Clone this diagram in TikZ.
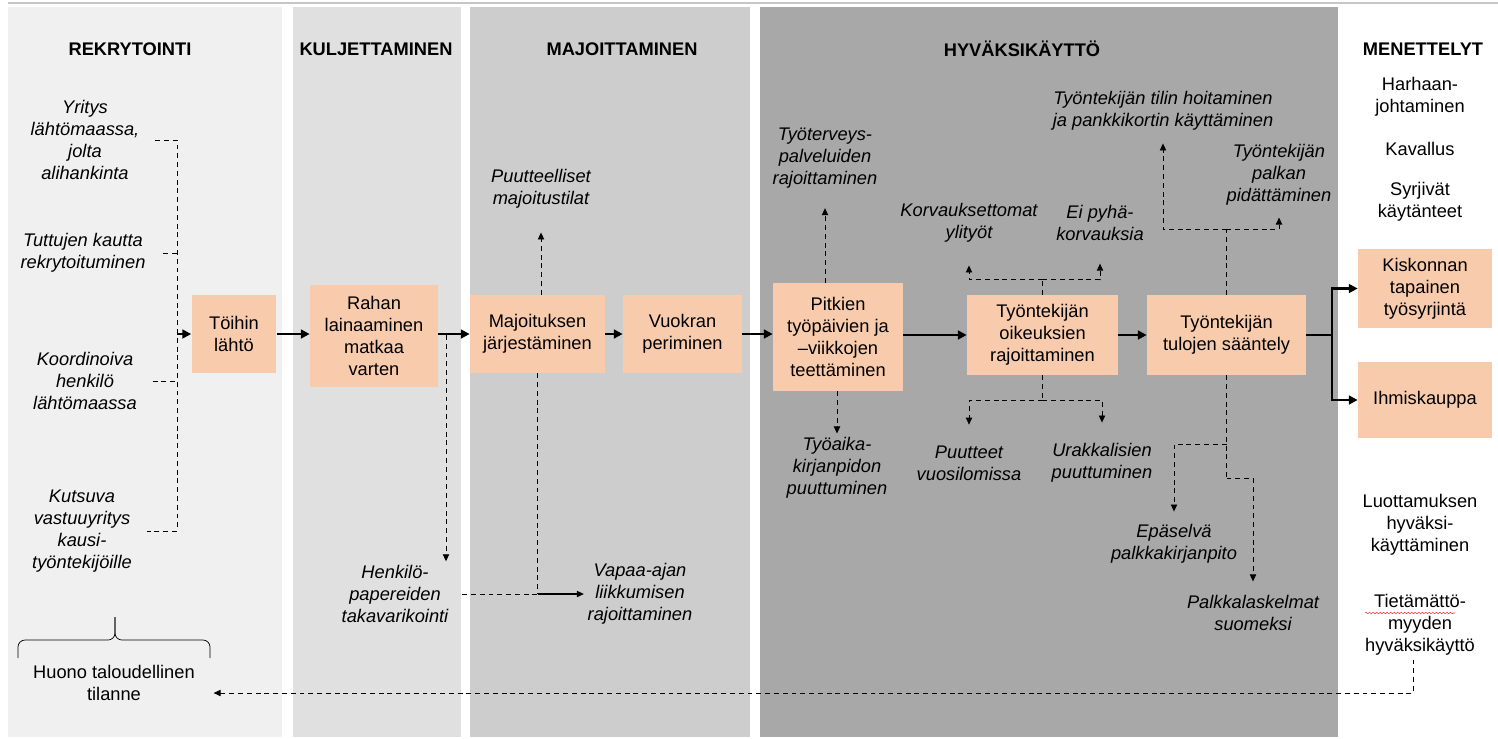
\documentclass[tikz,border=0pt]{standalone}
\usepackage{fontspec}
\setmainfont{Liberation Sans}
\usetikzlibrary{arrows.meta, positioning, decorations.pathmorphing}
\definecolor{peach}{HTML}{F8CBAD}
\definecolor{phaseA}{HTML}{F0F0F0}
\definecolor{phaseB}{HTML}{E0E0E0}
\definecolor{phaseC}{HTML}{CDCDCD}
\definecolor{phaseD}{HTML}{A8A8A8}
\newcommand{\diagfont}{\fontsize{10.4}{12.6}\selectfont}

\begin{document}
\begin{tikzpicture}[x=0.02cm, y=-0.02cm,
    phase/.style={font=\diagfont\bfseries},
    stage/.style={rectangle, fill=peach, align=center, font=\diagfont, inner sep=2pt},
    issue/.style={align=center, font=\diagfont\itshape, inner sep=2pt},
    method/.style={align=center, font=\diagfont, inner sep=2pt},
    flow/.style={-{Triangle[length=5pt,width=5pt]}, line width=1.2pt},
    dashlink/.style={dash pattern=on 2.8pt off 2.2pt, line width=0.5pt},
    linkarrow/.style={dashlink, -{Triangle[length=4pt,width=3.6pt]}}
]

    % Background
    \useasboundingbox (0,0) rectangle (1498,738);
    \fill[white] (0,0) rectangle (1498,738);
    \draw[gray!45, line width=0.6pt] (8,3) -- (1498,3);
    \fill[phaseA] (8,7) rectangle (282,737);
    \fill[phaseB] (293,7) rectangle (461,737);
    \fill[phaseC] (470,7) rectangle (750,737);
    \fill[phaseD] (760,7) rectangle (1338,737);

    % Phases
    \node[phase] (rek) at (130,49) {REKRYTOINTI};
    \node[phase] (kul) at (376,49) {KULJETTAMINEN};
    \node[phase] (maj) at (622,49) {MAJOITTAMINEN};
    \node[phase] (hyv) at (1022,49) {HYVÄKSIKÄYTTÖ};
    \node[phase] (men) at (1423,49) {MENETTELYT};

    % Stages
    \node[stage, minimum width=1.7cm, minimum height=1.56cm] (toihin) at (234,334) {Töihin\\lähtö};
    \node[stage, minimum width=2.56cm, minimum height=2.04cm] (rahan) at (374,336) {Rahan\\lainaaminen\\matkaa\\varten};
    \node[stage, minimum width=2.7cm, minimum height=1.56cm] (majoitus) at (537.5,334) {Majoituksen\\järjestäminen};
    \node[stage, minimum width=2.38cm, minimum height=1.56cm] (vuokra) at (682.5,334) {Vuokran\\periminen};
    \node[stage, minimum width=2.6cm, minimum height=2.16cm] (pitkien) at (838,337) {Pitkien\\työpäivien ja\\–viikkojen\\teettäminen};
    \node[stage, minimum width=3.02cm, minimum height=1.6cm] (oikeudet) at (1042.5,335) {Työntekijän\\oikeuksien\\rajoittaminen};
    \node[stage, minimum width=3.18cm, minimum height=1.6cm] (tulot) at (1226.5,335) {Työntekijän\\tulojen sääntely};
    \node[stage, minimum width=2.68cm, minimum height=1.58cm] (kiskonta) at (1425,288.5) {Kiskonnan\\tapainen\\työsyrjintä};
    \node[stage, minimum width=2.68cm, minimum height=1.52cm] (ihmiskauppa) at (1425,400) {Ihmiskauppa};

    % Recruitment
    \node[issue] (yritys) at (85,140) {Yritys\\lähtömaassa,\\jolta\\alihankinta};
    \node[issue] (tuttujen) at (83,253) {Tuttujen kautta\\rekrytoituminen};
    \node[issue] (koord) at (85,381) {Koordinoiva\\henkilö\\lähtömaassa};
    \node[issue] (kutsuva) at (82,531) {Kutsuva\\vastuuyritys\\kausi-\\työntekijöille};
    \node[method] (huono) at (114,683) {Huono taloudellinen\\tilanne};
    \coordinate (recfork) at (177,334);

    \draw[dashlink, shorten <=0.24cm, shorten >=0.23cm] (yritys.east) -| (recfork) |- (kutsuva.east);
    \draw[dashlink, shorten <=0.28cm] (tuttujen.east) -- (tuttujen.east -| recfork);
    \draw[dashlink, shorten <=0.24cm] (koord.east) -- (koord.east -| recfork);
    \draw[flow] (recfork) -- (toihin);
    \draw[rounded corners=0.14cm] (18,658) -- (18,640) -- (115,640) -- (115,617);
    \draw[rounded corners=0.14cm] (210,658) -- (210,640) -- (115,640) -- (115,617);

    % Transport and housing
    \node[issue] (henkilo) at (395,594) {Henkilö-\\papereiden\\takavarikointi};
    \node[issue] (vapaa) at (640,594) {Vapaa-ajan\\liikkumisen\\rajoittaminen};
    \node[issue] (puutteelliset) at (541,189) {Puutteelliset\\majoitustilat};
    \coordinate (paperfork) at (446,335);
    \coordinate (freejoin) at (majoitus.south |- henkilo.east);

    \draw[flow] (toihin.east) -- (toihin.east -| rahan.west);
    \draw[flow] (rahan.east |- majoitus.west) -- (majoitus.west);
    \draw[flow] (majoitus) -- (vuokra);
    \draw[flow] (vuokra.east) -- (vuokra.east -| pitkien.west);
    \draw[linkarrow] (paperfork) -- (paperfork |- henkilo.north);
    \draw[dashlink, shorten <=0.2cm] (henkilo.east) -- (freejoin);
    \draw[dashlink] (majoitus.south) -- (freejoin);
    \draw[-{Triangle[length=4pt,width=3.6pt]}, line width=0.6pt] (freejoin) -- (vapaa.west);
    \draw[linkarrow, shorten >=0.4cm] (puutteelliset.south |- majoitus.north) -- (puutteelliset.south);

    % Exploitation
    \node[issue] (tyoterveys) at (825,158) {Työterveys-\\palveluiden\\rajoittaminen};
    \node[issue] (tyoaika) at (837,468) {Työaika-\\kirjanpidon\\puuttuminen};
    \node[issue] (korvaukset) at (969,223) {Korvauksettomat\\ylityöt};
    \node[issue] (pyha) at (1100,223) {Ei pyhä-\\korvauksia};
    \node[issue] (puutteet) at (969,463) {Puutteet\\vuosilomissa};
    \node[issue] (urakka) at (1102,463) {Urakkalisien\\puuttuminen};
    \node[issue] (tili) at (1163,111) {Työntekijän tilin hoitaminen\\ja pankkikortin käyttäminen};
    \node[issue] (pidatys) at (1279,175) {Työntekijän\\palkan\\pidättäminen};
    \node[issue] (epaselva) at (1174,544) {Epäselvä\\palkkakirjanpito};
    \node[issue] (laskelmat) at (1253,613) {Palkkalaskelmat\\suomeksi};

    \draw[flow] (pitkien.east |- oikeudet.west) -- (oikeudet.west);
    \draw[flow] (oikeudet) -- (tulot);
    \draw[linkarrow, shorten >=0.32cm] (tyoterveys.south |- pitkien.north) -- (tyoterveys.south);
    \draw[linkarrow] (tyoaika.north |- pitkien.south) -- (tyoaika.north);

    \path (oikeudet.north) ++(0,-15) coordinate (rightsup);
    \path (oikeudet.south) ++(0,25) coordinate (rightsdown);
    \draw[dashlink] (oikeudet.north) -- (rightsup);
    \draw[linkarrow, shorten >=0.38cm] (rightsup) -| (korvaukset.south);
    \draw[linkarrow, shorten >=0.38cm] (rightsup) -| (pyha.south);
    \draw[dashlink] (oikeudet.south) -- (rightsdown);
    \draw[linkarrow, shorten >=0.34cm] (rightsdown) -| (puutteet.north);
    \draw[linkarrow, shorten >=0.34cm] (rightsdown) -| (urakka.north);

    \path (tulot.north) ++(0,-65) coordinate (incomeup);
    \path (tulot.south) ++(0,69) coordinate (incomedownA);
    \path (tulot.south) ++(0,103) coordinate (incomedownB);
    \draw[dashlink] (tulot.north) -- (incomeup);
    \draw[linkarrow, shorten >=0.18cm] (incomeup) -| (tili.south);
    \draw[linkarrow, shorten >=0.16cm] (incomeup) -| (pidatys.south);
    \draw[dashlink] (tulot.south) -- (incomedownB);
    \draw[linkarrow, shorten >=0.18cm] (incomedownA) -| (epaselva.north);
    \draw[linkarrow, shorten >=0.2cm] (incomedownB) -| (laskelmat.north);

    % Methods
    \node[method] (harhaan) at (1420,97) {Harhaan-\\johtaminen};
    \node[method] (kavallus) at (1420,149) {Kavallus};
    \node[method] (syrjivat) at (1420,202) {Syrjivät\\käytänteet};
    \node[method] (luottamus) at (1420,525) {Luottamuksen\\hyväksi-\\käyttäminen};
    \node[method] (tietam) at (1420,625) {Tietämättö-\\myyden\\hyväksikäyttö};
    \draw[red!80, line width=0.3pt, decorate, decoration={snake, amplitude=0.4pt, segment length=2pt}] (1365,613) -- (1455,613);

    \coordinate (split) at (1332,335);
    \draw[flow] (tulot.east) -- (split) |- (kiskonta.west);
    \draw[flow] (split) |- (ihmiskauppa.west);

    % Feedback
    \coordinate (fbcorner) at (1413,693);
    \draw[linkarrow, shorten >=0.3cm] (tietam.south -| fbcorner) |- (huono.east |- fbcorner);

\end{tikzpicture}
\end{document}
